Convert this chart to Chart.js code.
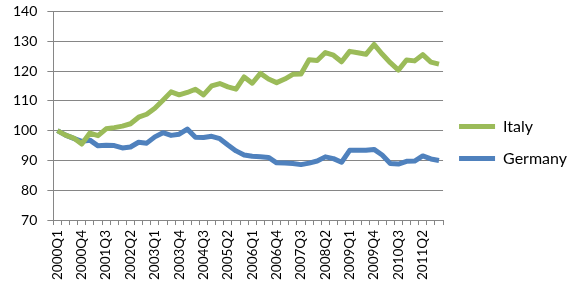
<!DOCTYPE html>
<html>
<head>
<meta charset="utf-8">
<script src="https://cdn.jsdelivr.net/npm/chart.js@4/dist/chart.umd.min.js"></script>
<style>
  html, body { margin: 0; padding: 0; background: #fff; }
  #wrap { width: 577px; height: 285px; position: relative; }
</style>
</head>
<body>
<div id="wrap"><canvas id="c"></canvas></div>
<script>
const categories = [
  "2000Q1","2000Q2","2000Q3","2000Q4","2001Q1","2001Q2","2001Q3","2001Q4",
  "2002Q1","2002Q2","2002Q3","2002Q4","2003Q1","2003Q2","2003Q3","2003Q4",
  "2004Q1","2004Q2","2004Q3","2004Q4","2005Q1","2005Q2","2005Q3","2005Q4",
  "2006Q1","2006Q2","2006Q3","2006Q4","2007Q1","2007Q2","2007Q3","2007Q4",
  "2008Q1","2008Q2","2008Q3","2008Q4","2009Q1","2009Q2","2009Q3","2009Q4",
  "2010Q1","2010Q2","2010Q3","2010Q4","2011Q1","2011Q2","2011Q3","2011Q4"
];
const italy = [
  100, 98.5, 97.5, 95.5, 99.2, 98.3, 100.6, 101, 101.5, 102.3, 104.5, 105.5,
  107.5, 110.2, 113, 112, 112.8, 113.9, 112, 115, 115.8, 114.7, 113.9, 118,
  115.9, 119.2, 117.3, 116.1, 117.3, 118.9, 119, 123.8, 123.5, 126.2, 125.3, 123.1,
  126.6, 126.1, 125.6, 128.9, 125.7, 122.8, 120.3, 123.7, 123.4, 125.5, 123, 122.3
];
const germany = [
  100, 98.5, 97.4, 96.4, 96.8, 94.9, 95.1, 95, 94.2, 94.5, 96.1, 95.8,
  97.9, 99.3, 98.4, 98.8, 100.5, 97.8, 97.7, 98.1, 97.3, 95.2, 93.2, 91.8,
  91.4, 91.2, 91, 89.2, 89.1, 89, 88.6, 89.1, 89.8, 91.2, 90.6, 89.4,
  93.4, 93.4, 93.4, 93.7, 91.8, 89, 88.8, 89.7, 89.8, 91.5, 90.5, 90
];
const yTicks = [70, 80, 90, 100, 110, 120, 130, 140];
const labelEvery = 3;

const FONT = "Lato, 'Liberation Sans', sans-serif";

new Chart(document.getElementById('c'), {
  type: 'line',
  data: {
    labels: categories,
    datasets: [
      { label: 'Italy', data: italy, borderColor: '#9BBB59', backgroundColor: '#9BBB59',
        borderWidth: 5, pointRadius: 0, tension: 0, borderJoinStyle: 'round', pointStyle: 'line' },
      { label: 'Germany', data: germany, borderColor: '#4F81BD', backgroundColor: '#4F81BD',
        borderWidth: 5, pointRadius: 0, tension: 0, borderJoinStyle: 'round', pointStyle: 'line' }
    ]
  },
  options: {
    responsive: true,
    maintainAspectRatio: false,
    animation: false,
    devicePixelRatio: 1,
    layout: { padding: { top: 0, left: 3, bottom: 0, right: 0 } },
    plugins: {
      tooltip: { enabled: false },
      legend: {
        position: 'right',
        align: 'center',
        labels: {
          usePointStyle: true,
          pointStyle: 'line',
          pointStyleWidth: 36,
          boxWidth: 36,
          padding: 16,
          color: '#000',
          font: { family: FONT, size: 16 }
        }
      }
    },
    scales: {
      x: {
        type: 'category',
        offset: true,
        grid: { display: true, drawOnChartArea: false, drawTicks: true, tickLength: 5,
                offset: true, color: '#868686' },
        border: { display: true, color: '#868686' },
        ticks: {
          autoSkip: false,
          maxRotation: 90, minRotation: 90,
          padding: 5,
          color: '#000',
          font: { family: FONT, size: 13.5 },
          callback: function(v, i) { return i % labelEvery === 0 ? categories[i] : ''; }
        }
      },
      y: {
        min: 70, max: 140,
        afterBuildTicks: function(axis) { axis.ticks = yTicks.map(v => ({ value: v })); },
        grid: { color: '#868686', drawTicks: true, tickLength: 6 },
        border: { display: true, color: '#868686' },
        ticks: { padding: 10, color: '#000', font: { family: FONT, size: 14, lineHeight: 0.2 } }
      }
    }
  }
});
</script>
</body>
</html>
